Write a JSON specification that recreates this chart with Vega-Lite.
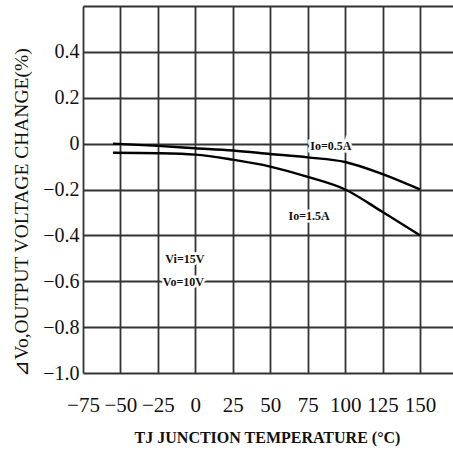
{
  "$schema": "https://vega.github.io/schema/vega-lite/v6.json",
  "autosize": "none",
  "width": 370,
  "height": 367,
  "padding": {"left": 83, "top": 6, "right": 0, "bottom": 78},
  "background": "white",
  "config": {
    "view": {"stroke": null},
    "font": "Liberation Serif"
  },
  "datasets": {
    "curves": [
      {"temp": -55, "change": 0.0, "current": "0.5A"},
      {"temp": -25, "change": -0.01, "current": "0.5A"},
      {"temp": 0, "change": -0.02, "current": "0.5A"},
      {"temp": 25, "change": -0.03, "current": "0.5A"},
      {"temp": 50, "change": -0.045, "current": "0.5A"},
      {"temp": 75, "change": -0.06, "current": "0.5A"},
      {"temp": 100, "change": -0.08, "current": "0.5A"},
      {"temp": 125, "change": -0.133, "current": "0.5A"},
      {"temp": 150, "change": -0.2, "current": "0.5A"},
      {"temp": -55, "change": -0.04, "current": "1.5A"},
      {"temp": -25, "change": -0.042, "current": "1.5A"},
      {"temp": 0, "change": -0.048, "current": "1.5A"},
      {"temp": 25, "change": -0.07, "current": "1.5A"},
      {"temp": 50, "change": -0.1, "current": "1.5A"},
      {"temp": 75, "change": -0.145, "current": "1.5A"},
      {"temp": 100, "change": -0.2, "current": "1.5A"},
      {"temp": 125, "change": -0.298, "current": "1.5A"},
      {"temp": 150, "change": -0.4, "current": "1.5A"}
    ],
    "notes": [
      {"temp": 90.5, "change": -0.012, "label": "Io=0.5A"},
      {"temp": 76, "change": -0.315, "label": "Io=1.5A"},
      {"temp": -7, "change": -0.503, "label": "Vi=15V"},
      {"temp": -8, "change": -0.604, "label": "Vo=10V"}
    ]
  },
  "layer": [
    {
      "data": {"name": "curves"},
      "mark": {"type": "line", "color": "black", "strokeWidth": 2.4, "interpolate": "monotone"},
      "encoding": {
        "x": {
          "field": "temp", "type": "quantitative",
          "scale": {"domain": [-75, 172], "nice": false, "zero": false},
          "axis": {
            "values": [-75, -50, -25, 0, 25, 50, 75, 100, 125, 150],
            "grid": true, "gridColor": "#333333", "gridWidth": 1.8, "gridOpacity": 1,
            "domain": false, "ticks": false,
            "labelFont": "Liberation Serif", "labelFontSize": 21, "labelColor": "#111111",
            "labelPadding": 21, "labelFlush": false,
            "title": "TJ JUNCTION TEMPERATURE (°C)",
            "titleFont": "Liberation Serif", "titleFontSize": 16, "titleFontWeight": "bold",
            "titleColor": "#111111", "titlePadding": 14, "titleX": 184
          }
        },
        "y": {
          "field": "change", "type": "quantitative",
          "scale": {"domain": [-1, 0.6], "nice": false, "zero": false},
          "axis": {
            "values": [-1, -0.8, -0.6, -0.4, -0.2, 0, 0.2, 0.4, 0.6],
            "labelExpr": "datum.value > 0.5 ? '' : (datum.value == 0 ? '0' : format(datum.value, '.1f'))",
            "grid": true, "gridColor": "#333333", "gridWidth": 1.8, "gridOpacity": 1,
            "domain": false, "ticks": false,
            "labelFont": "Liberation Serif", "labelFontSize": 20, "labelColor": "#111111",
            "labelPadding": 4, "labelFlush": false,
            "title": "⊿Vo,OUTPUT VOLTAGE CHANGE(%)",
            "titleFont": "Liberation Serif", "titleFontSize": 19.5, "titleFontWeight": "normal",
            "titleColor": "#111111", "titlePadding": 11, "titleY": 206
          }
        },
        "detail": {"field": "current"}
      }
    },
    {
      "data": {"name": "notes"},
      "mark": {"type": "text", "font": "Liberation Serif", "fontSize": 12, "fontWeight": "bold", "stroke": "white", "strokeWidth": 5, "color": "white"},
      "encoding": {
        "x": {"field": "temp", "type": "quantitative"},
        "y": {"field": "change", "type": "quantitative"},
        "text": {"field": "label"}
      }
    },
    {
      "data": {"name": "notes"},
      "mark": {"type": "text", "font": "Liberation Serif", "fontSize": 12, "fontWeight": "bold", "color": "#111111"},
      "encoding": {
        "x": {"field": "temp", "type": "quantitative"},
        "y": {"field": "change", "type": "quantitative"},
        "text": {"field": "label"}
      }
    }
  ]
}
